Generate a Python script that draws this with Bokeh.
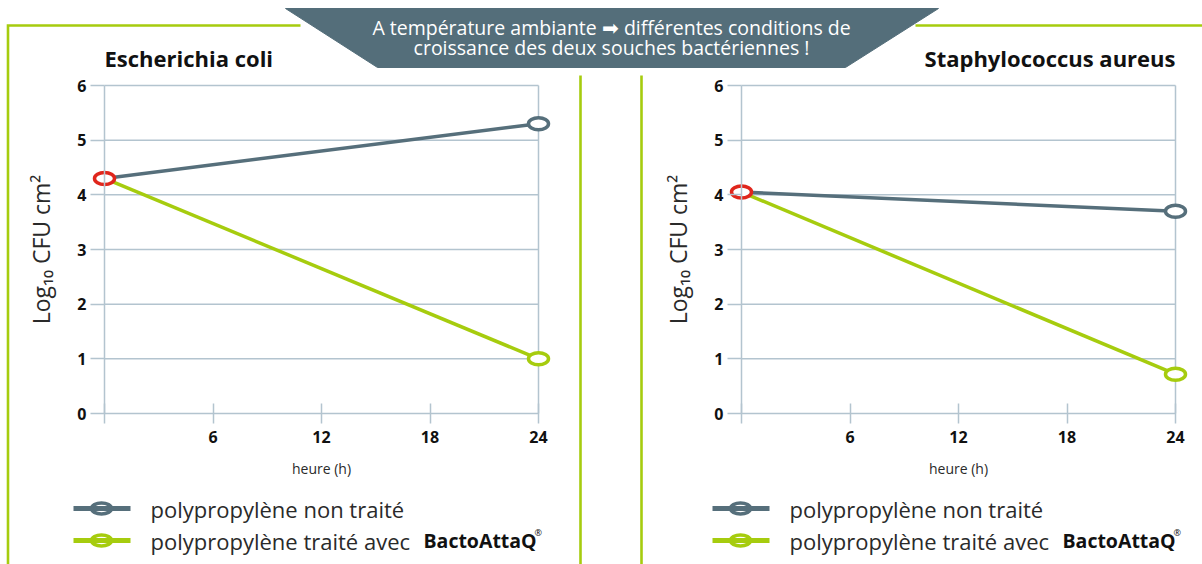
from bokeh.plotting import figure
from bokeh.models import Range1d, LinearAxis, FixedTicker
from bokeh.embed import file_html
from bokeh.resources import INLINE
from bokeh.core.properties import value

# ---------------- data ----------------
hours = [0, 24]
ecoli_untreated = [4.3, 5.3]
ecoli_treated = [4.3, 1.0]
staph_untreated = [4.05, 3.7]
staph_treated = [4.05, 0.72]
x_ticks = [0, 6, 12, 18, 24]
y_ticks = [0, 1, 2, 3, 4, 5, 6]
panel_titles = ["Escherichia coli", "Staphylococcus aureus"]
legend_labels = ["polypropylène non traité", "polypropylène traité avec"]
brand = "BactoAttaQ"
banner_lines = ["A température ambiante \u27a1 différentes conditions de",
                "croissance des deux souches bactériennes !"]
x_title = "heure (h)"
y_title = "Log\u2081\u2080 CFU cm\u00b2"

# ---------------- style ----------------
SLATE = "#566f7b"
GREEN = "#a6cc0e"
RED = "#e0261c"
GRID = "#b3c4cf"
BANNER = "#546e7a"
TXT = "#2a2a2a"
FONT = "Open Sans"

W, H = 1202, 564
OX, OY = 0, 0
SX = 434 / 24.0     # px per hour
SY = 328 / 6.0      # px per log unit
Y0 = 413            # pixel row of y = 0
panels = [("L", 104, ecoli_untreated, ecoli_treated),
          ("R", 741, staph_untreated, staph_treated)]

p = figure(width=W, height=H, x_range=Range1d(OX, OX + W), y_range=Range1d(OY + H, OY),
           output_backend="svg", toolbar_location=None, min_border=0,
           x_axis_location=None, y_axis_location=None)
p.grid.visible = False
p.outline_line_color = None
p.background_fill_color = "white"

p.extra_y_ranges = {"Y": Range1d(-(OY + H - Y0) / SY, (Y0 - OY) / SY)}
for name, px0, _, _ in panels:
    p.extra_x_ranges[name] = Range1d(-(px0 - OX) / SX, (OX + W - px0) / SX)

# ---------------- decorations ----------------
p.multi_line(xs=[[300, 7.5, 7.5], [580, 580], [641, 641], [915, 1202]],
             ys=[[25, 25, 564], [75, 564], [75, 564], [25, 25]],
             line_color=GREEN, line_width=2.6, line_join="miter")
p.patch(x=[285, 938, 845, 377], y=[8, 8, 67, 67], fill_color=BANNER, line_color=BANNER)
p.text(x=[611, 611], y=[27, 47], text=banner_lines, text_align="center",
       text_baseline="middle", text_color="white", text_font=value(FONT),
       text_font_size="19.5px")

p.text(x=[104], y=[57], text=[panel_titles[0]], text_align="left", text_baseline="middle",
       text_color="#111111", text_font=value(FONT), text_font_style="bold", text_font_size="22px")
p.text(x=[1175], y=[57], text=[panel_titles[1]], text_align="right", text_baseline="middle",
       text_color="#111111", text_font=value(FONT), text_font_style="bold", text_font_size="22px")

# ---------------- charts ----------------
for name, px0, untreated, treated in panels:
    kw = dict(x_range_name=name, y_range_name="Y")
    gy = y_ticks[1:]
    p.segment(x0=[x_ticks[0]] * len(gy), x1=[x_ticks[-1]] * len(gy), y0=gy, y1=gy,
              line_color=GRID, line_width=1.5, **kw)
    p.segment(x0=[x_ticks[-1]], x1=[x_ticks[-1]], y0=[y_ticks[0]], y1=[y_ticks[-1]],
              line_color=GRID, line_width=1.5, **kw)

    xa = LinearAxis(fixed_location=0, bounds=(x_ticks[0], x_ticks[-1]),
                    ticker=FixedTicker(ticks=x_ticks), major_label_overrides={0: ""},
                    axis_label=x_title, **kw)
    ya = LinearAxis(fixed_location=0, bounds=(y_ticks[0], y_ticks[-1]),
                    ticker=FixedTicker(ticks=y_ticks), axis_label=y_title, **kw)
    for ax in (xa, ya):
        ax.axis_line_color = GRID
        ax.axis_line_width = 1.5
        ax.major_tick_line_color = GRID
        ax.major_tick_line_width = 1.5
        ax.minor_tick_line_color = None
        ax.major_label_text_font = FONT
        ax.major_label_text_font_style = "bold"
        ax.major_label_text_font_size = "16px"
        ax.major_label_text_color = "#111111"
        ax.axis_label_text_font = FONT
        ax.axis_label_text_font_style = "normal"
        ax.axis_label_text_color = TXT
    xa.major_tick_in = 10
    xa.major_tick_out = 10
    xa.major_label_standoff = 7
    xa.axis_label_text_font_size = "14px"
    xa.axis_label_standoff = 13
    ya.major_tick_in = 0
    ya.major_tick_out = 14
    ya.major_label_standoff = 4
    ya.axis_label_text_font_size = "23px"
    ya.axis_label_standoff = 17
    p.add_layout(xa, "below")
    p.add_layout(ya, "left")

    p.line(hours, untreated, line_color=SLATE, line_width=3.5, **kw)
    p.line(hours, treated, line_color=GREEN, line_width=3.5, **kw)
    p.ellipse(x=hours[1:], y=untreated[1:], width=20, height=12, width_units="screen",
              height_units="screen", fill_color="white", line_color=SLATE, line_width=3.5, **kw)
    p.ellipse(x=hours[1:], y=treated[1:], width=20, height=12, width_units="screen",
              height_units="screen", fill_color="white", line_color=GREEN, line_width=3.5, **kw)
    p.ellipse(x=hours[:1], y=untreated[:1], width=20, height=12, width_units="screen",
              height_units="screen", fill_color="white", line_color=RED, line_width=3.5, **kw)

# ---------------- legends ----------------
FS = 22
for lx in (73, 712):
    for row, (col, lab) in enumerate(zip([SLATE, GREEN], legend_labels)):
        ly = 508 + 32 * row
        p.segment(x0=[lx], x1=[lx + 57], y0=[ly], y1=[ly], line_color=col, line_width=5)
        p.ellipse(x=[lx + 28], y=[ly], width=20, height=11, width_units="screen",
                  height_units="screen", fill_color=None, line_color=col, line_width=3.5)
        p.text(x=[lx + 77], y=[ly], text=[lab], text_align="left", text_baseline="middle",
               text_color=TXT, text_font=value(FONT), text_font_size=f"{FS}px")
    bx = lx + 350
    p.text(x=[bx], y=[540], text=[brand], text_align="left", text_baseline="middle",
           text_color="#111111", text_font=value(FONT), text_font_style="bold",
           text_font_size="19.5px")
    p.text(x=[bx + 111], y=[532], text=["\u00ae"], text_align="left", text_baseline="middle",
           text_color="#111111", text_font=value(FONT), text_font_size="9px")

open("out.html", "w").write(file_html(p, INLINE))
